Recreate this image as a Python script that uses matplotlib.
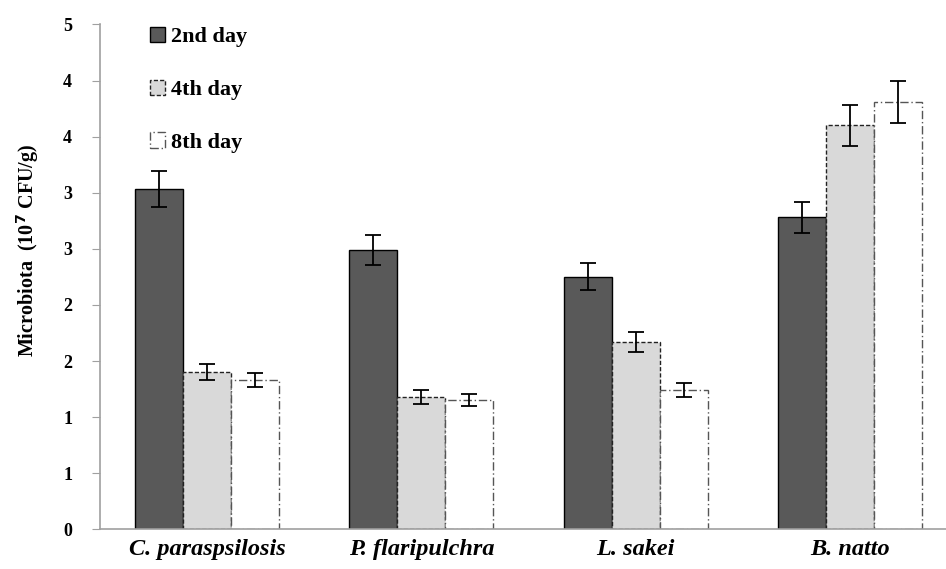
import matplotlib.pyplot as plt
import numpy as np

# Data (10^7 CFU/g)
species = ["C. paraspsilosis", "P. flaripulchra", "L. sakei", "B. natto"]
days = ["2nd day", "4th day", "8th day"]
day2 = [3.03, 2.49, 2.25, 2.78]
day4 = [1.40, 1.18, 1.67, 3.60]
day8 = [1.33, 1.15, 1.24, 3.81]
err2 = [0.16, 0.13, 0.12, 0.14]
err4 = [0.07, 0.065, 0.09, 0.18]
err8 = [0.06, 0.055, 0.06, 0.19]

plt.rcParams['font.family'] = ['Liberation Serif', 'DejaVu Serif']

fig = plt.figure(figsize=(9.46, 5.69), dpi=100)
ax = fig.add_axes([0.1057, 0.0698, 1 - 0.1057, 0.957 - 0.0698])

x = np.arange(len(species))
w = 0.224
styles = [
    dict(color="#595959", edgecolor="black", linestyle="-"),
    dict(color="#d9d9d9", edgecolor="#222222", linestyle=(0, (3, 1.5))),
    dict(color="white", edgecolor="#555555", linestyle=(0, (6, 2, 1, 2))),
]
series = [day2, day4, day8]
errs = [err2, err4, err8]

for i, (vals, e, st) in enumerate(zip(series, errs, styles)):
    ax.bar(x + (i - 1) * w, vals, width=w, label=days[i], linewidth=1.0, **st)
    ax.errorbar(x + (i - 1) * w, vals, yerr=e, fmt="none", ecolor="black",
                elinewidth=1.3, capsize=6, capthick=1.3)

ax.set_xlim(-0.5, 3.448)
ax.set_ylim(0, 4.5)
yt = np.arange(0, 4.51, 0.5)
ax.set_yticks(yt)
ax.set_yticklabels([str(int(np.floor(v + 0.5))) for v in yt],
                   fontsize=13, fontweight="bold")
ax.set_xticks(x)
ax.set_xticklabels(species, fontsize=17.5, fontweight="bold", fontstyle="italic")
ax.tick_params(axis="x", length=0, pad=7)
ax.tick_params(axis="y", length=6, color="#a0a0a0", pad=14)
for s in ["top", "right"]:
    ax.spines[s].set_visible(False)
for s in ["left", "bottom"]:
    ax.spines[s].set_color("#a0a0a0")
    ax.spines[s].set_linewidth(1.2)

ax.set_ylabel("Microbiota  (10$^{\\mathbf{7}}$ CFU/g)", fontsize=14.5,
              fontweight="bold")
ax.yaxis.set_label_coords(-0.07, 0.553)

leg = ax.legend(loc="upper left", bbox_to_anchor=(0.035, 1.035), frameon=False,
                prop={"size": 16, "weight": "bold"}, labelspacing=1.45,
                handlelength=0.7, handleheight=0.7, handletextpad=0.25)

fig.savefig("out.png", dpi=100)
